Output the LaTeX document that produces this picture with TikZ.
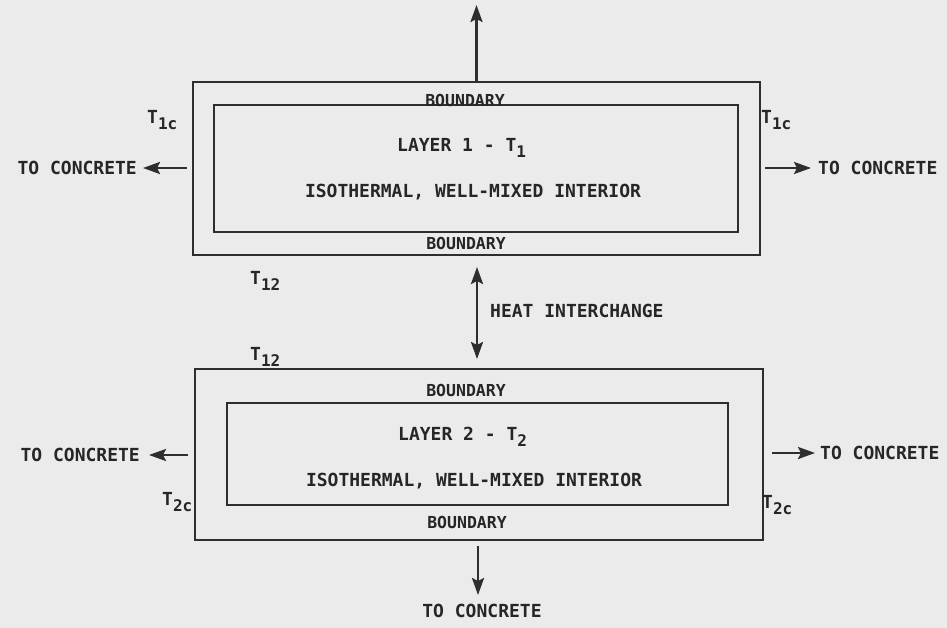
\documentclass[tikz,border=0pt]{standalone}
\usepackage{fontspec}
\setmonofont{DejaVu Sans Mono}
\usetikzlibrary{arrows.meta}
\newcommand\lowsub[1]{\raisebox{-0.6ex}{\fontsize{16}{16}\selectfont #1}}
\begin{document}
\begin{tikzpicture}[x=1pt,y=-1pt,
  ink/.style={draw=black!82, line width=2.6pt},
  box/.style={ink, rectangle, inner sep=0pt},
  lbl/.style={font=\ttfamily\bfseries\fontsize{18}{18}\selectfont, text=black!85, inner sep=0pt},
  bnd/.style={font=\ttfamily\bfseries\fontsize{16.5}{16.5}\selectfont, text=black!85, inner sep=0pt},
  tip/.tip={Stealth[length=17pt,width=12pt,inset=3pt,fill=black!82]},
  arr/.style={ink, -tip},
  darr/.style={ink, tip-tip}]
\fill[black!8] (0,0) rectangle (947,628);
\useasboundingbox (0,0) rectangle (947,628);
% boxes
\node[box, minimum width=567pt, minimum height=173pt] (o1) at (476.5,168.5) {};
\node[box, minimum width=524pt, minimum height=127pt] (i1) at (476,168.5) {};
\node[box, minimum width=568pt, minimum height=171pt] (o2) at (479,454.5) {};
\node[box, minimum width=501pt, minimum height=102pt] (i2) at (477.5,454) {};
% texts in boxes
\node[bnd] (b1t) at (465,100) {BOUNDARY};
\node[bnd] (b1b) at (466,243) {BOUNDARY};
\node[bnd] (b2t) at (466,390) {BOUNDARY};
\node[bnd] (b2b) at (467,522) {BOUNDARY};
\node[lbl, anchor=west] (l1) at (397,148) {LAYER 1 - T\lowsub{1}};
\node[lbl] (s1) at (473,192) {ISOTHERMAL, WELL-MIXED INTERIOR};
\node[lbl, anchor=west] (l2) at (398,437) {LAYER 2 - T\lowsub{2}};
\node[lbl] (s2) at (474,481) {ISOTHERMAL, WELL-MIXED INTERIOR};
% temperature labels
\node[lbl, anchor=west] (t1cl) at (147,120) {T\lowsub{1c}};
\node[lbl, anchor=west] (t1cr) at (761,120) {T\lowsub{1c}};
\node[lbl, anchor=west] (t12a) at (250,281) {T\lowsub{12}};
\node[lbl, anchor=west] (t12b) at (250,357) {T\lowsub{12}};
\node[lbl, anchor=west] (t2cl) at (162,502) {T\lowsub{2c}};
\node[lbl, anchor=west] (t2cr) at (762,505) {T\lowsub{2c}};
% outside labels
\node[lbl, anchor=east] (cl1) at (137,168) {TO CONCRETE};
\node[lbl, anchor=west] (cr1) at (818,168) {TO CONCRETE};
\node[lbl, anchor=east] (cl2) at (140,455) {TO CONCRETE};
\node[lbl, anchor=west] (cr2) at (820,453) {TO CONCRETE};
\node[lbl] (cb) at (482,611) {TO CONCRETE};
\node[lbl, anchor=west] (hx) at (490,311) {HEAT INTERCHANGE};
% arrow end points
\coordinate (top) at (476.5,5);
\coordinate (l1s) at (187,168); \coordinate (l1e) at (143,168);
\coordinate (r1s) at (765,168); \coordinate (r1e) at (811,168);
\coordinate (l2s) at (188,455); \coordinate (l2e) at (149,455);
\coordinate (r2s) at (772,453); \coordinate (r2e) at (815,453);
\coordinate (hxa) at (477,267); \coordinate (hxb) at (477,359);
\coordinate (bs) at (478,546); \coordinate (be) at (478,595);
% arrows
\draw[arr] (o1.north) -- (top);
\draw[arr] (l1s) -- (l1e);
\draw[arr] (r1s) -- (r1e);
\draw[arr] (l2s) -- (l2e);
\draw[arr] (r2s) -- (r2e);
\draw[darr] (hxa) -- (hxb);
\draw[arr] (bs) -- (be);
\end{tikzpicture}
\end{document}
